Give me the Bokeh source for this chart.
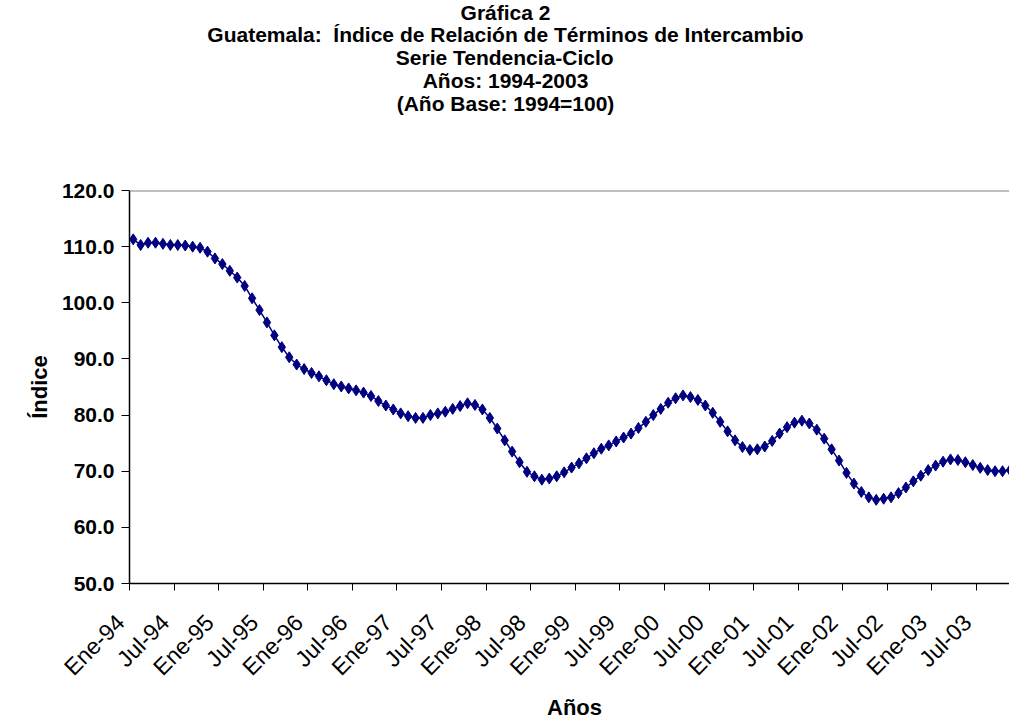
import math
from bokeh.plotting import figure
from bokeh.models import Range1d, FixedTicker, Span, Title, NumeralTickFormatter
from bokeh.embed import file_html
from bokeh.resources import INLINE

# ---- data ----
month_names = ["Ene", "Feb", "Mar", "Abr", "May", "Jun",
               "Jul", "Ago", "Sep", "Oct", "Nov", "Dic"]
years = ["94", "95", "96", "97", "98", "99", "00", "01", "02", "03"]

v1994 = [111.3, 110.3, 110.7, 110.7, 110.5, 110.3, 110.3, 110.2, 110.0, 109.8, 109.1, 107.9]
v1995 = [106.9, 105.7, 104.5, 103.0, 100.8, 98.7, 96.5, 94.2, 92.1, 90.3, 89.0, 88.2]
v1996 = [87.5, 86.9, 86.2, 85.5, 85.1, 84.75, 84.4, 84.0, 83.4, 82.5, 81.7, 81.0]
v1997 = [80.3, 79.8, 79.5, 79.5, 80.0, 80.3, 80.6, 81.1, 81.6, 82.1, 81.8, 81.0]
v1998 = [79.5, 77.6, 75.5, 73.5, 71.6, 69.9, 69.1, 68.5, 68.7, 69.1, 69.8, 70.65]
v1999 = [71.4, 72.3, 73.2, 74.0, 74.6, 75.3, 76.0, 76.7, 77.7, 78.8, 80.0, 81.1]
v2000 = [82.2, 83.0, 83.5, 83.2, 82.7, 81.7, 80.4, 78.8, 77.1, 75.5, 74.3, 73.8]
v2001 = [73.9, 74.4, 75.4, 76.7, 77.85, 78.65, 79.0, 78.5, 77.4, 75.8, 73.9, 71.9]
v2002 = [69.7, 67.8, 66.3, 65.35, 64.9, 65.1, 65.35, 66.1, 67.1, 68.2, 69.2, 70.2]
v2003 = [71.0, 71.7, 72.1, 72.0, 71.6, 71.1, 70.6, 70.2, 70.0, 70.0, 70.2, 70.3]

y_ticks = [50, 60, 70, 80, 90, 100, 110, 120]

title_lines = [
    "Gráfica 2",
    "Guatemala:\u00a0 Índice de Relación de Términos de Intercambio",
    "Serie Tendencia-Ciclo",
    "Años: 1994-2003",
    "(Año Base: 1994=100)",
]
x_title = "Años"
y_title = "Índice"

# ---- build ----
categories = [m + "-" + y for y in years for m in month_names]
values = v1994 + v1995 + v1996 + v1997 + v1998 + v1999 + v2000 + v2001 + v2002 + v2003
xs = [i + 0.5 for i in range(len(values))]

FONT = "Liberation Sans"
NAVY = "#000080"
W, H = 1009, 719
LEFT, TOP, BOTTOM = 129, 189, 136
TITLE_CENTER_X = 505
TITLE_SIZE = 21
XTITLE_CENTER_X = 574
XTITLE_SIZE = 22

# approximate advance widths (per 1000 em) of Liberation Sans Bold, for centering titles
ADV = {' ': 278, '\u00a0': 278, '(': 333, ')': 333, '-': 333, '.': 278, ':': 333,
       '=': 584, 'A': 722, 'B': 722, 'C': 722, 'G': 778, 'I': 278, 'R': 722,
       'S': 667, 'T': 611, 'a': 556, 'b': 611, 'c': 556, 'd': 611, 'e': 556,
       'f': 333, 'i': 278, 'l': 278, 'm': 889, 'n': 611, 'o': 611, 'r': 389,
       's': 556, 't': 333, 'u': 611, 'á': 556, 'é': 556, 'ó': 611, 'ñ': 611,
       'Í': 278}


def text_width(s, size):
    return sum(ADV.get(c, 556) for c in s) * size / 1000.0


p = figure(width=W, height=H, output_backend="svg", toolbar_location=None,
           x_range=Range1d(0, 118.44), y_range=Range1d(50, 120),
           min_border_left=LEFT, min_border_right=0, min_border_top=TOP,
           min_border_bottom=BOTTOM)
p.title = None
p.background_fill_color = "white"
p.border_fill_color = "white"
p.outline_line_color = None
p.xgrid.visible = False
p.ygrid.visible = False

# spacer between title block and plot area (nearest panel)
p.add_layout(Title(text="\u00a0", text_font_size="1px", standoff=74), "above")
# title lines, nearest-to-plot first
n = len(title_lines)
for k, line in enumerate(reversed(title_lines)):
    is_first_line = (k == n - 1)
    off = TITLE_CENTER_X - LEFT - text_width(line, TITLE_SIZE) / 2.0
    p.add_layout(Title(text=line, align="left", offset=off,
                       text_font=FONT, text_font_style="bold",
                       text_font_size=f"{TITLE_SIZE}px",
                       standoff=(-4 if is_first_line else -2),
                       text_color="black"), "above")

# x axis title (below the tick labels)
p.add_layout(Title(text=x_title, align="left",
                   offset=XTITLE_CENTER_X - LEFT - text_width(x_title, XTITLE_SIZE) / 2.0,
                   text_font=FONT, text_font_style="bold",
                   text_font_size=f"{XTITLE_SIZE}px", standoff=0,
                   text_color="black"), "below")

# top border of plot area
p.add_layout(Span(location=120, dimension="width", line_color="#808080", line_width=2))

p.line(xs, values, line_color=NAVY, line_width=1.5)
p.scatter(xs, values, marker="diamond", size=11, fill_color=NAVY, line_color=NAVY)

# x axis
tick_pos = list(range(0, len(values), 6))
p.xaxis.ticker = FixedTicker(ticks=tick_pos)
p.xaxis.major_label_overrides = {t: categories[t] + "\u00a0\u00a0" for t in tick_pos}
p.xaxis.major_label_orientation = math.pi / 4
p.xaxis.major_label_text_font = FONT
p.xaxis.major_label_text_font_size = "23px"
p.xaxis.major_label_text_color = "black"
p.xaxis.major_label_standoff = 19
p.xaxis.minor_tick_line_color = None
p.xaxis.major_tick_in = 0
p.xaxis.major_tick_out = 7
p.xaxis.major_tick_line_color = "black"
p.xaxis.axis_line_color = "black"
p.xaxis.axis_line_width = 1.5

# y axis
p.yaxis.ticker = FixedTicker(ticks=y_ticks)
p.yaxis.formatter = NumeralTickFormatter(format="0.0")
p.yaxis.major_label_text_font = FONT
p.yaxis.major_label_text_font_style = "bold"
p.yaxis.major_label_text_font_size = "21px"
p.yaxis.major_label_text_color = "black"
p.yaxis.major_label_standoff = 7
p.yaxis.minor_tick_line_color = None
p.yaxis.major_tick_in = 0
p.yaxis.major_tick_out = 8
p.yaxis.major_tick_line_color = "black"
p.yaxis.axis_line_color = "black"
p.yaxis.axis_line_width = 1.5
p.yaxis.axis_label = y_title
p.yaxis.axis_label_text_font = FONT
p.yaxis.axis_label_text_font_style = "bold"
p.yaxis.axis_label_text_font_size = "22px"
p.yaxis.axis_label_text_color = "black"
p.yaxis.axis_label_standoff = 7

open("out.html", "w").write(file_html(p, INLINE))
